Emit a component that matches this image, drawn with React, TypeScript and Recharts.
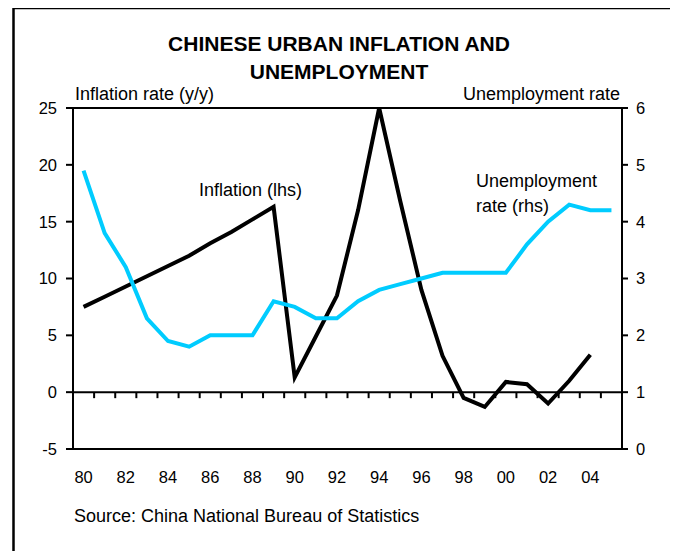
import React from 'react';
import { ComposedChart, Line, XAxis, YAxis, ReferenceLine } from 'recharts';

const years = [
  '1980', '1981', '1982', '1983', '1984', '1985', '1986', '1987', '1988', '1989',
  '1990', '1991', '1992', '1993', '1994', '1995', '1996', '1997', '1998', '1999',
  '2000', '2001', '2002', '2003', '2004', '2005',
];

// urban CPI, % y/y (left axis)
const inflation = [
  7.5, 8.4, 9.3, 10.2, 11.1, 12.0, 13.1, 14.1, 15.2, 16.3,
  1.3, 4.9, 8.5, 16.0, 25.0, 16.8, 9.0, 3.2, -0.5, -1.3,
  0.9, 0.7, -1.0, 1.0, 3.3, null,
];

// urban unemployment rate, % (right axis)
const unemployment = [
  4.9, 3.8, 3.2, 2.3, 1.9, 1.8, 2.0, 2.0, 2.0, 2.6,
  2.5, 2.3, 2.3, 2.6, 2.8, 2.9, 3.0, 3.1, 3.1, 3.1,
  3.1, 3.6, 4.0, 4.3, 4.2, 4.2,
];

const leftTicks = [-5, 0, 5, 10, 15, 20, 25];
const rightTicks = [0, 1, 2, 3, 4, 5, 6];

const data = years.map((y, i) => ({
  year: y,
  inflation: inflation[i],
  unemployment: unemployment[i],
}));

const FONT = '"Liberation Sans", Arial, sans-serif';

// zero line with small tick marks at each year boundary
const ZeroLine = (props: any) => {
  const { x1, y1, x2, y2 } = props;
  const step = (x2 - x1) / years.length;
  const marks = [];
  for (let k = 1; k < years.length; k++) {
    const x = x1 + k * step;
    marks.push(<line key={k} x1={x} y1={y1} x2={x} y2={y1 + 6} stroke="#000" strokeWidth={2} />);
  }
  return (
    <g>
      <line x1={x1} y1={y1} x2={x2} y2={y2} stroke="#000" strokeWidth={2} />
      {marks}
    </g>
  );
};

const App = () => {
  return (
    <div style={{ position: 'relative', width: 678, height: 559, margin: -8, background: '#fff', overflow: 'hidden', fontFamily: FONT }}>
      <ComposedChart
        width={678}
        height={559}
        data={data}
        margin={{ top: 108, right: 16, bottom: 80, left: 33 }}
        style={{ position: 'absolute', left: 0, top: 0 }}
      >
        <XAxis
          dataKey="year"
          scale="band"
          interval={1}
          height={30}
          tickLine={false}
          tickSize={0}
          tickMargin={22}
          axisLine={{ stroke: '#000', strokeWidth: 2 }}
          tick={{ fill: '#000', fontSize: 16.5, fontFamily: FONT }}
          tickFormatter={(v: string) => v.slice(2)}
        />
        <YAxis
          yAxisId="left"
          width={40}
          domain={[-5, 25]}
          ticks={leftTicks}
          interval={0}
          tickSize={7}
          tickMargin={9}
          axisLine={{ stroke: '#000', strokeWidth: 2 }}
          tickLine={{ stroke: '#000', strokeWidth: 2 }}
          tick={{ fill: '#000', fontSize: 16.5, fontFamily: FONT }}
        />
        <YAxis
          yAxisId="right"
          orientation="right"
          width={40}
          domain={[0, 6]}
          ticks={rightTicks}
          interval={0}
          tickSize={6}
          tickMargin={8}
          axisLine={{ stroke: '#000', strokeWidth: 2 }}
          tickLine={{ stroke: '#000', strokeWidth: 2 }}
          tick={{ fill: '#000', fontSize: 16.5, fontFamily: FONT }}
        />
        <ReferenceLine yAxisId="left" y={25} stroke="#000" strokeWidth={2} />
        <ReferenceLine yAxisId="left" y={0} shape={ZeroLine} />
        <Line
          yAxisId="left"
          dataKey="inflation"
          type="linear"
          stroke="#000"
          strokeWidth={4}
          dot={false}
          isAnimationActive={false}
        />
        <Line
          yAxisId="right"
          dataKey="unemployment"
          type="linear"
          stroke="#00ccff"
          strokeWidth={4}
          dot={false}
          isAnimationActive={false}
        />
      </ComposedChart>
      <svg width={678} height={559} style={{ position: 'absolute', left: 0, top: 0, pointerEvents: 'none' }}>
        <rect x={13.5} y={8} width={662} height={600} fill="none" stroke="#000" strokeWidth={2.5} />
        <g fontFamily={FONT} fill="#000">
          <text x={339} y={51} fontSize={21} fontWeight="bold" textAnchor="middle">CHINESE URBAN INFLATION AND</text>
          <text x={339} y={79} fontSize={21} fontWeight="bold" textAnchor="middle">UNEMPLOYMENT</text>
          <text x={75} y={100} fontSize={18}>Inflation rate (y/y)</text>
          <text x={620} y={100} fontSize={18} textAnchor="end">Unemployment rate</text>
          <text x={199} y={196} fontSize={18}>Inflation (lhs)</text>
          <text x={476} y={187} fontSize={18}>Unemployment</text>
          <text x={476} y={212} fontSize={18}>rate (rhs)</text>
          <text x={74} y={522} fontSize={18}>Source: China National Bureau of Statistics</text>
        </g>
      </svg>
    </div>
  );
};

export default App;
